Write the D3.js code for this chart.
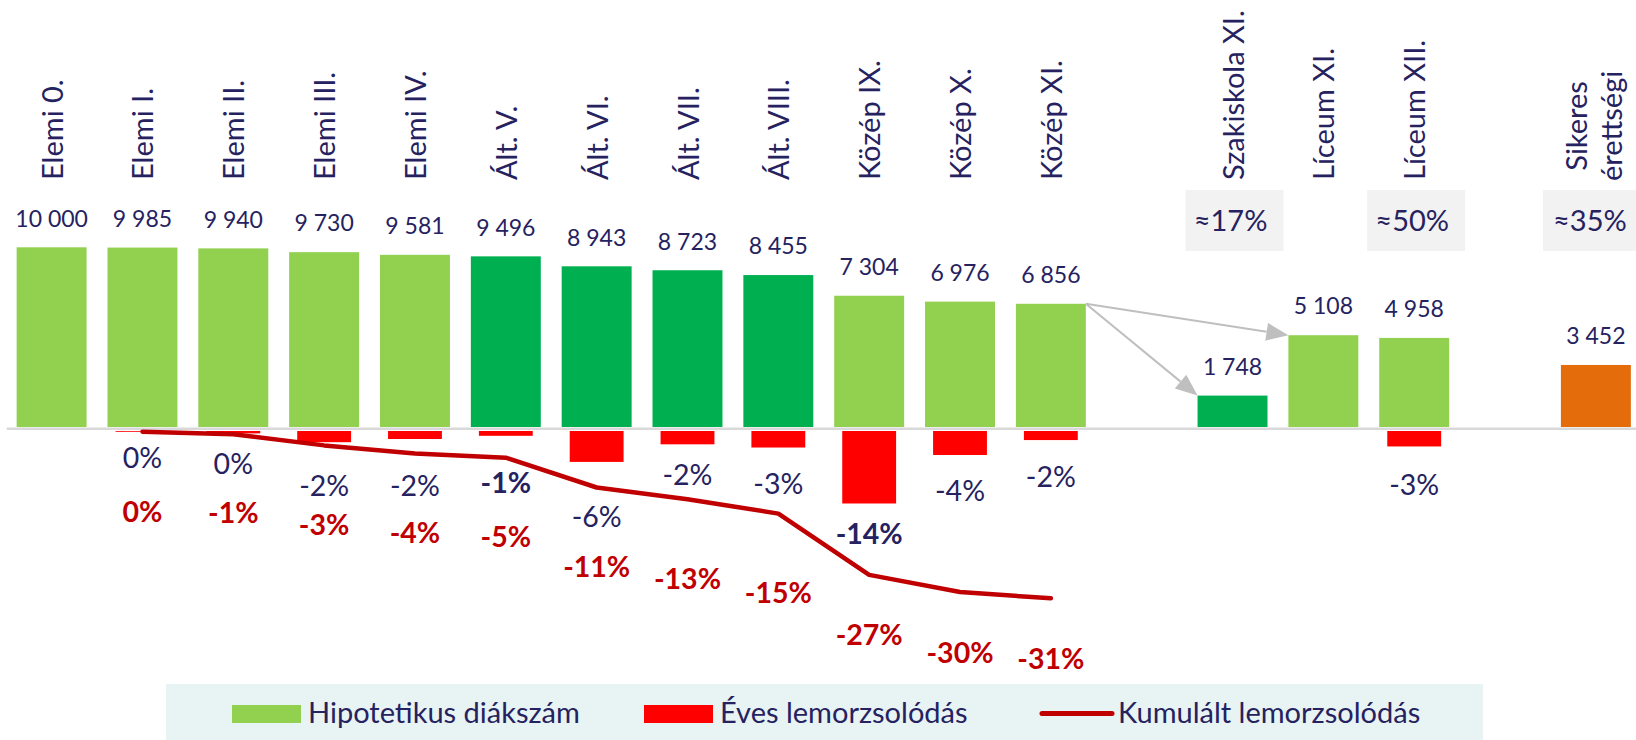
<!DOCTYPE html>
<html>
<head>
<meta charset="utf-8">
<script src="https://cdn.jsdelivr.net/npm/d3@7"></script>
<style>
  html, body { margin: 0; padding: 0; background: #ffffff; }
  svg { display: block; font-family: Lato, "Open Sans", sans-serif; }
</style>
</head>
<body>
<svg id="chart" width="1636" height="740"></svg>
<script>
// ---------------- DATA ----------------
const categories = ["Elemi 0.", "Elemi I.", "Elemi II.", "Elemi III.", "Elemi IV.",
  "Ált. V.", "Ált. VI.", "Ált. VII.", "Ált. VIII.",
  "Közép IX.", "Közép X.", "Közép XI.",
  "Szakiskola XI.", "Líceum XI.", "Líceum XII.", "Sikeres érettségi"];
const studentCounts = [10000, 9985, 9940, 9730, 9581, 9496, 8943, 8723, 8455, 7304, 6976, 6856, 1748, 5108, 4958, 3452];
const valueLabels = ["10 000", "9 985", "9 940", "9 730", "9 581", "9 496", "8 943", "8 723", "8 455", "7 304", "6 976", "6 856", "1 748", "5 108", "4 958", "3 452"];
const schoolType = ["elemi", "elemi", "elemi", "elemi", "elemi",
  "alt", "alt", "alt", "alt",
  "kozep", "kozep", "kozep",
  "szakiskola", "liceum", "liceum", "erettsegi"];
// annual dropout (%) - red bars
const annualDrop = [null, -0.15, -0.45, -2.1, -1.5, -0.9, -5.8, -2.5, -3.1, -13.6, -4.5, -1.7, null, null, -2.9, null];
const annualLabels = [null, "0%", "0%", "-2%", "-2%", "-1%", "-6%", "-2%", "-3%", "-14%", "-4%", "-2%", null, null, "-3%", null];
// cumulative dropout (%) - line
const cumDrop = [null, -0.15, -0.6, -2.7, -4.2, -5.0, -10.6, -12.8, -15.5, -27.0, -30.2, -31.4, null, null, null, null];
const cumLabels = [null, "0%", "-1%", "-3%", "-4%", "-5%", "-11%", "-13%", "-15%", "-27%", "-30%", "-31%", null, null, null, null];
// share boxes
const shareCategories = ["Szakiskola XI.", "Líceum XII.", "Sikeres érettségi"];
const shareLabels = ["≈17%", "≈50%", "≈35%"];
// flows (arrows)
const flowFrom = ["Közép XI.", "Közép XI."];
const flowTo = ["Líceum XI.", "Szakiskola XI."];
// legend
const legendLabels = ["Hipotetikus diákszám", "Éves lemorzsolódás", "Kumulált lemorzsolódás"];

// ---------------- STYLE / LAYOUT ----------------
const NAVY = "#25225f";
const DARKRED = "#c00000";
const typeColor = { elemi: "#92d050", alt: "#00b050", kozep: "#92d050", szakiskola: "#00b050", liceum: "#92d050", erettsegi: "#e46c0a" };
const boldAnnual = new Set(["Ált. V.", "Közép IX."]);
const annualLabelDy = [0, 26, 30, 43.5, 46.5, 47, 55, 30, 36.5, 30, 35.5, 36.5, 0, 0, 38.5, 0];
const cumLabelDy = [0, 80, 79, 79.5, 79.5, 79.5, 79.5, 79.5, 79.5, 60, 61, 60];
const FS_CAT = 29, FS_VAL = 23, FS_PCT = 28.5, FS_BOX = 29, FS_LEG = 29;

const svg = d3.select("#chart");

// slot domain with gaps
const slots = [];
categories.forEach(c => {
  slots.push(c);
  if (c === "Közép XI." || c === "Líceum XII.") slots.push("__gap_" + c);
});

const x = d3.scaleBand().domain(slots).range([6.2, 1641.3]).paddingInner(0.23).paddingOuter(0.115);
const cx = c => x(c) + x.bandwidth() / 2;
const yBar = d3.scaleLinear().domain([0, 10000]).range([427, 247.3]);
const yPct = d3.scaleLinear().domain([0, -35]).range([431, 431 + 35 * 5.33]);

// legend background
svg.append("rect").attr("x", 166).attr("y", 684).attr("width", 1317).attr("height", 56).attr("fill", "#e8f3f4");

// baseline axis
const axis = d3.axisBottom(x).tickSize(0).tickFormat("");
const axisG = svg.append("g").attr("transform", "translate(0,428.2)").call(axis);
axisG.select(".domain").attr("stroke", "#d9d9d9").attr("stroke-width", 2.4);
axisG.selectAll(".tick").remove();

// student bars
svg.append("g").selectAll("rect").data(categories).join("rect")
  .attr("x", d => x(d))
  .attr("y", (d, i) => yBar(studentCounts[i]))
  .attr("width", x.bandwidth())
  .attr("height", (d, i) => yBar(0) - yBar(studentCounts[i]))
  .attr("fill", (d, i) => typeColor[schoolType[i]]);

// value labels
svg.append("g").selectAll("text").data(categories).join("text")
  .attr("x", d => cx(d))
  .attr("y", (d, i) => yBar(studentCounts[i]) - 29)
  .attr("dy", "0.36em")
  .attr("text-anchor", "middle")
  .attr("font-size", FS_VAL)
  .attr("fill", NAVY)
  .text((d, i) => valueLabels[i]);

// annual drop red bars
const redW = x.bandwidth() * 0.77;
svg.append("g").selectAll("rect")
  .data(categories.map((c, i) => ({ c, i })).filter(o => annualDrop[o.i] !== null))
  .join("rect")
  .attr("x", o => cx(o.c) - redW / 2)
  .attr("y", yPct(0))
  .attr("width", redW)
  .attr("height", o => Math.max(0.8, yPct(annualDrop[o.i]) - yPct(0)))
  .attr("fill", "#ff0000");

// cumulative line
const linePts = categories.map((c, i) => ({ c, i })).filter(o => cumDrop[o.i] !== null);
svg.append("path")
  .datum(linePts)
  .attr("d", d3.line().x(o => cx(o.c)).y(o => yPct(cumDrop[o.i])))
  .attr("fill", "none")
  .attr("stroke", DARKRED)
  .attr("stroke-width", 4.5)
  .attr("stroke-linecap", "round")
  .attr("stroke-linejoin", "round");

// annual labels
svg.append("g").selectAll("text")
  .data(categories.map((c, i) => ({ c, i })).filter(o => annualLabels[o.i] !== null))
  .join("text")
  .attr("x", o => cx(o.c))
  .attr("y", o => yPct(annualDrop[o.i]) + annualLabelDy[o.i])
  .attr("dy", "0.36em")
  .attr("text-anchor", "middle")
  .attr("font-size", FS_PCT)
  .attr("font-weight", o => boldAnnual.has(o.c) ? "bold" : "normal")
  .attr("fill", NAVY)
  .text(o => annualLabels[o.i]);

// cumulative labels
svg.append("g").selectAll("text")
  .data(linePts)
  .join("text")
  .attr("x", o => cx(o.c))
  .attr("y", o => yPct(cumDrop[o.i]) + cumLabelDy[o.i])
  .attr("dy", "0.36em")
  .attr("text-anchor", "middle")
  .attr("font-size", FS_PCT)
  .attr("font-weight", "bold")
  .attr("fill", DARKRED)
  .text(o => cumLabels[o.i]);

// category labels (rotated)
const catG = svg.append("g");
categories.forEach(c => {
  const parts = c === "Sikeres érettségi" ? ["Sikeres", "érettségi"] : [c];
  if (parts.length === 1) {
    catG.append("text")
      .attr("transform", `translate(${cx(c)},180) rotate(-90)`)
      .attr("dy", "0.38em")
      .attr("font-size", FS_CAT)
      .attr("fill", NAVY)
      .text(c);
  } else {
    const offs = [-0.3, 0.9];
    const texts = parts.map((p, k) => catG.append("text")
      .attr("font-size", FS_CAT)
      .attr("fill", NAVY)
      .attr("text-anchor", "middle")
      .attr("dy", offs[k] + "em")
      .text(p));
    const maxLen = d3.max(texts, t => t.node().getComputedTextLength());
    texts.forEach(t => t.attr("transform", `translate(${cx(c)},${181 - maxLen / 2}) rotate(-90)`));
  }
});

// share boxes
const boxW = 98;
const shareG = svg.append("g");
shareCategories.forEach((c, k) => {
  shareG.append("rect")
    .attr("x", cx(c) - boxW / 2 + (k === 2 ? -4 : 2))
    .attr("y", 190)
    .attr("width", boxW)
    .attr("height", 61)
    .attr("fill", "#f2f2f2");
  shareG.append("text")
    .attr("x", cx(c) + (k === 2 ? -6 : -2))
    .attr("y", 221)
    .attr("dy", "0.36em")
    .attr("text-anchor", "middle")
    .attr("font-size", FS_BOX)
    .attr("fill", NAVY)
    .text(shareLabels[k]);
});

// flow arrows
const arrowG = svg.append("g");
flowFrom.forEach((f, k) => {
  const fi = categories.indexOf(f), ti = categories.indexOf(flowTo[k]);
  const x0 = x(f) + x.bandwidth(), y0 = yBar(studentCounts[fi]);
  const x1 = x(flowTo[k]), y1 = yBar(studentCounts[ti]);
  const ang = Math.atan2(y1 - y0, x1 - x0);
  const L = 22, W = 9;
  const bx = x1 - L * Math.cos(ang), by = y1 - L * Math.sin(ang);
  arrowG.append("line").attr("x1", x0).attr("y1", y0).attr("x2", bx).attr("y2", by)
    .attr("stroke", "#bfbfbf").attr("stroke-width", 2);
  const px = -Math.sin(ang) * W, py = Math.cos(ang) * W;
  arrowG.append("polygon")
    .attr("points", [[x1, y1], [bx + px, by + py], [bx - px, by - py]].map(p => p.join(",")).join(" "))
    .attr("fill", "#bfbfbf");
});

// legend
const lg = svg.append("g");
const legendSwatchX = [232, 644, 1042];
const legendTextX = [308, 720, 1118];
legendLabels.forEach((l, k) => {
  if (k < 2) {
    lg.append("rect").attr("x", legendSwatchX[k]).attr("y", 705).attr("width", 69).attr("height", 18)
      .attr("fill", k === 0 ? "#92d050" : "#ff0000");
  } else {
    lg.append("line").attr("x1", legendSwatchX[k]).attr("x2", legendSwatchX[k] + 70)
      .attr("y1", 713.5).attr("y2", 713.5)
      .attr("stroke", DARKRED).attr("stroke-width", 5).attr("stroke-linecap", "round");
  }
  lg.append("text").attr("x", legendTextX[k]).attr("y", 713).attr("dy", "0.36em")
    .attr("font-size", FS_LEG).attr("fill", NAVY).text(l);
});
</script>
</body>
</html>
